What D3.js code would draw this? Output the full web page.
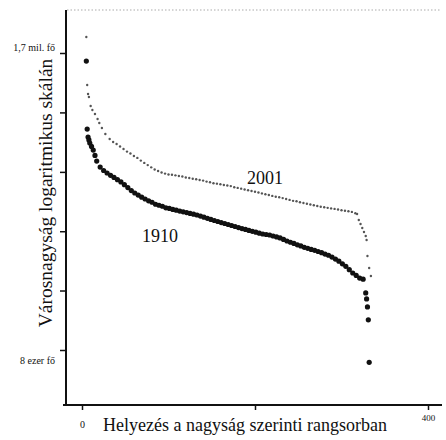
<!DOCTYPE html>
<html>
<head>
<meta charset="utf-8">
<script src="https://cdn.jsdelivr.net/npm/d3@7"></script>
<style>
  body { margin: 0; background: #fff; }
  text { font-family: "Liberation Serif", "Times New Roman", serif; fill: #111; }
</style>
</head>
<body>
<svg width="446" height="440"></svg>
<script>
// [rank, population in thousands]
const towns1910 = [
  [5,1470],[6,431],[7,373],[8,354],[9,335],[11,315],[13,295],[15,268],[17,242],[21,217],[25,204],[29,195],
  [33,187],[37,180],[41,173],[45,166],[49,158],[53,150],[57,142],[61,136],[65,131],[69,126],
  [73,122],[77,118],[81,115],[85,111],[89,109],[93,107],[97,104],[101,103],[105,101],[109,99.7],
  [113,98.2],[117,96.8],[121,95.5],[125,94.1],[129,92.7],[133,91.4],[137,89.6],[141,87.9],[145,86.1],[149,84.4],
  [153,82.8],[157,81.3],[161,79.8],[165,78.4],[169,77.0],[173,75.6],[177,74.3],[181,72.9],[185,71.6],[189,70.4],
  [193,69.2],[197,68.1],[201,67.0],[205,65.9],[209,64.9],[213,64.3],[217,63.7],[221,62.6],[225,61.5],[229,60.4],
  [233,58.8],[237,57.2],[241,55.9],[245,54.7],[249,53.4],[253,52.3],[257,51.0],[261,50.1],[265,49.1],[269,48.3],
  [273,47.3],[277,46.3],[281,45.2],[285,44.2],[289,42.8],[293,41.3],[297,39.7],[301,37.9],[305,36.2],[309,34.1],
  [313,32.1],[317,30.7],[321,29.3],[325,28.7],[328,22.4],[329,20.1],[330,17.4],[331,13.8],[332,6.4]
];
const towns2001 = [
  [5,2270],[6,954],[7,811],[8,768],[10,653],[12,608],[15,565],[18,517],[20,481],[23,439],
  [27,394],[32,360],[36,341],[40,329],[44,315],[48,301],[52,287],[56,277],[60,265],[64,256],
  [68,244],[72,234],[76,225],[80,216],[84,208],[88,202],[92,197],[96,193],[100,190],[104,189],
  [108,187],[112,185],[116,183],[120,180],[124,178],[128,176],[132,174],[136,172],[140,170],[144,167],
  [148,165],[152,162],[156,161],[160,159],[164,157],[168,155.5],[172,154],[176,151],[180,149],[184,147],
  [188,145],[192,143],[196,141],[200,139],[204,137],[208,135],[212,133],[216,131],[220,129],[224,127],
  [228,126],[232,124],[236,122],[240,120],[244,118],[248,117],[252,115],[256,113.5],[260,112],[264,110.5],
  [268,109],[272,107.5],[276,106],[280,105],[284,104],[288,103],[292,102],[296,101],[300,99.7],[304,98.6],
  [308,97.7],[312,96.7],[316,94.4],[318,93.1],[320,83.5],[322,77.7],[324,72.3],[326,67.3],[328,62.6],[329,58.2],
  [330,43.6],[332,35.1],[334,30.4]
];
const yTicks = [8, 23.4, 68.2, 199, 582, 1700];
const yTickLabels = ["8 ezer fő", "", "", "", "", "1,7 mil. fő"];
const xTicks = [0, 200, 400];
const xTickLabels = ["0", "", "400"];

const svg = d3.select("svg");
const x = d3.scaleLinear().domain([0, 400]).range([82, 428]);
const y = d3.scaleLog().domain([8, 1700]).range([350, 53]);

// faint top border
svg.append("line")
  .attr("x1", 67).attr("x2", 440).attr("y1", 10).attr("y2", 10)
  .attr("stroke", "#aaa").attr("stroke-width", 1).attr("stroke-dasharray", "1.5 2");

// y axis
const gy = svg.append("g")
  .attr("transform", "translate(66,0)")
  .call(d3.axisLeft(y).tickValues(yTicks).tickFormat((d, i) => yTickLabels[i]).tickSize(6).tickPadding(5));
gy.select(".domain").remove();
gy.selectAll(".tick line").attr("stroke", "#111").attr("stroke-width", 1.5);
gy.selectAll(".tick text")
  .attr("font-size", 10)
  .attr("x", -11)
  .attr("dy", d => d === 8 ? "1.3em" : "-0.3em");
gy.append("line").attr("y1", 10).attr("y2", 406).attr("stroke", "#111").attr("stroke-width", 2);

// x axis
const gx = svg.append("g")
  .attr("transform", "translate(0,405)")
  .call(d3.axisBottom(x).tickValues(xTicks).tickFormat((d, i) => xTickLabels[i]).tickSize(5));
gx.select(".domain").remove();
gx.selectAll(".tick line").attr("stroke", "#111").attr("stroke-width", 1.5);
gx.selectAll(".tick text")
  .attr("font-size", d => d === 0 ? 10 : 9)
  .attr("dy", 0)
  .attr("y", d => d === 0 ? 23 : 16);
gx.append("line").attr("x1", 63).attr("x2", 442).attr("stroke", "#111").attr("stroke-width", 2);

// axis titles
svg.append("text")
  .attr("x", 245).attr("y", 431)
  .attr("text-anchor", "middle").attr("font-size", 18)
  .text("Helyezés a nagyság szerinti rangsorban");
svg.append("text")
  .attr("transform", "translate(52,193) rotate(-90)")
  .attr("text-anchor", "middle").attr("font-size", 19.5)
  .text("Városnagyság logaritmikus skálán");

// 2001: small grey dots
svg.append("g").selectAll("circle")
  .data(towns2001)
  .join("circle")
  .attr("cx", d => x(d[0]))
  .attr("cy", d => y(d[1]))
  .attr("r", 1.2)
  .attr("fill", "#555");

// 1910: heavy black dots
svg.append("g").selectAll("circle")
  .data(towns1910)
  .join("circle")
  .attr("cx", d => x(d[0]))
  .attr("cy", d => y(d[1]))
  .attr("r", 2.6)
  .attr("fill", "#111");

// series labels
svg.append("text").attr("x", 247).attr("y", 184).attr("font-size", 18).text("2001");
svg.append("text").attr("x", 142).attr("y", 242).attr("font-size", 18).text("1910");
</script>
</body>
</html>
